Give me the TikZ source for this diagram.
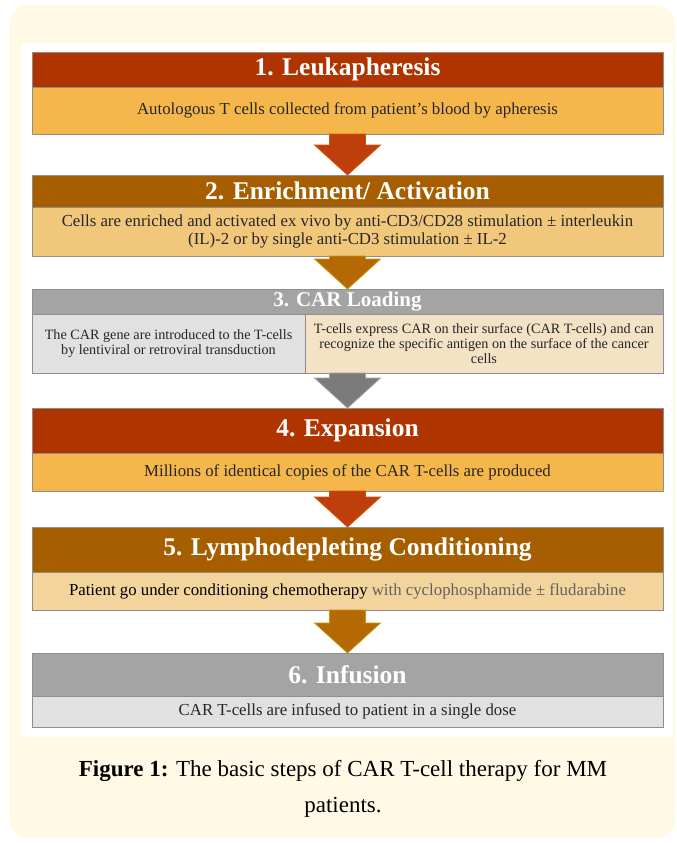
\documentclass[tikz,border=0pt]{standalone}
\usepackage{fontspec}
\setmainfont{Liberation Serif}
\usetikzlibrary{positioning, calc}

\definecolor{cream}{HTML}{FFF9E6}
\definecolor{frame}{HTML}{8E8E8E}
\definecolor{ink}{HTML}{262626}
\definecolor{redhd}{HTML}{AF3400}
\definecolor{orgbd}{HTML}{F5B74C}
\definecolor{brnhd}{HTML}{A65E00}
\definecolor{lorbd}{HTML}{F1C77C}
\definecolor{gryhd}{HTML}{A4A4A4}
\definecolor{grybd}{HTML}{E1E1E1}
\definecolor{begbd}{HTML}{F3E2C4}
\definecolor{sndbd}{HTML}{F2D49C}
\definecolor{redar}{HTML}{BE3F0C}
\definecolor{brnar}{HTML}{B46905}
\definecolor{gryar}{HTML}{7B7B7B}

\newcommand\titlefont{\fontsize{25.5}{27}\selectfont\bfseries}
\newcommand\bodyfont{\fontsize{16.8}{17.5}\selectfont}
\newcommand\smallbody{\fontsize{14.2}{15}\selectfont}
\newcommand\capfont{\fontsize{23}{36}\selectfont}

% block arrow from one anchor down to another
\newcommand\fatarrow[4]{%
  \draw[#4, fill=#3, line width=0.8pt, line join=miter]
    ($(#1)+(-18,0)$) -- ($(#2)+(-18,-30)$) -- ($(#2)+(-33,-30)$) -- (#2)
    -- ($(#2)+(33,-30)$) -- ($(#2)+(18,-30)$) -- ($(#1)+(18,0)$) -- cycle;}

\tikzset{
  hdr/.style={draw=frame, line width=0.8pt, minimum width=631pt, inner sep=0pt, outer sep=0pt, text=white, font=\titlefont},
  bdy/.style={draw=frame, line width=0.8pt, minimum width=631pt, inner sep=0pt, outer sep=0pt, text=ink, font=\bodyfont, align=center},
}

\begin{document}
\begin{tikzpicture}[x=1pt, y=-1pt]
    \useasboundingbox (0,0) rectangle (677,843);
    \fill[white] (0,0) rectangle (677,843);
    \fill[cream, rounded corners=20pt] (9,5) rectangle (675,838);
    \fill[white] (21,43) rectangle (673,737);

    % step 1
    \node[hdr, fill=redhd, minimum height=35pt, anchor=north] (h1) at (347.5,52) {1. Leukapheresis};
    \node[bdy, fill=orgbd, minimum height=47pt, below=0pt of h1] (b1) {Autologous T cells collected from patient’s blood by apheresis};
    % step 2
    \node[hdr, fill=brnhd, minimum height=32pt, anchor=north] (h2) at (347.5,175) {2. Enrichment/ Activation};
    \node[bdy, fill=lorbd, minimum height=49pt, below=0pt of h2] (b2) {Cells are enriched and activated ex vivo by anti-CD3/CD28 stimulation ± interleukin\\(IL)-2 or by single anti-CD3 stimulation ± IL-2};
    % step 3
    \node[hdr, fill=gryhd, minimum height=25pt, anchor=north, font=\fontsize{21}{23}\selectfont\bfseries] (h3) at (347.5,289) {3. CAR Loading};
    \node[bdy, fill=grybd, minimum width=273pt, minimum height=59pt, anchor=north west, font=\smallbody] (b3l) at (h3.south west) {The CAR gene are introduced to the T-cells\\by lentiviral or retroviral transduction};
    \node[bdy, fill=begbd, minimum width=358pt, minimum height=59pt, anchor=north west, font=\smallbody] (b3r) at (b3l.north east) {T-cells express CAR on their surface (CAR T-cells) and can\\recognize the specific antigen on the surface of the cancer\\cells};
    % step 4
    \node[hdr, fill=redhd, minimum height=45pt, anchor=north] (h4) at (347.5,408) {4. Expansion};
    \node[bdy, fill=orgbd, minimum height=38pt, below=0pt of h4] (b4) {Millions of identical copies of the CAR T-cells are produced};
    % step 5
    \node[hdr, fill=brnhd, minimum height=45pt, anchor=north] (h5) at (347.5,527) {5. Lymphodepleting Conditioning};
    \node[bdy, fill=sndbd, minimum height=38pt, below=0pt of h5] (b5) {\textcolor{black}{Patient go under conditioning chemotherapy} \textcolor{black!62}{with cyclophosphamide ± fludarabine}};
    % step 6
    \node[hdr, fill=gryhd, minimum height=43pt, anchor=north] (h6) at (347.5,653) {6. Infusion};
    \node[bdy, fill=grybd, minimum height=31pt, below=0pt of h6] (b6) {CAR T-cells are infused to patient in a single dose};

    % arrows
    \fatarrow{b1.south}{h2.north}{redar}{redar!70!orange}
    \fatarrow{b2.south}{h3.north}{brnar}{brnar!70!yellow}
    \fatarrow{h3.south |- b3l.south}{h4.north}{gryar}{gryar!70!white}
    \fatarrow{b4.south}{h5.north}{redar}{redar!70!orange}
    \fatarrow{b5.south}{h6.north}{brnar}{brnar!70!yellow}

    \node[font=\capfont, align=center, text=black] (cap) at (343,789) {\textbf{Figure 1:} The basic steps of CAR T-cell therapy for MM\\patients.};
\end{tikzpicture}
\end{document}
